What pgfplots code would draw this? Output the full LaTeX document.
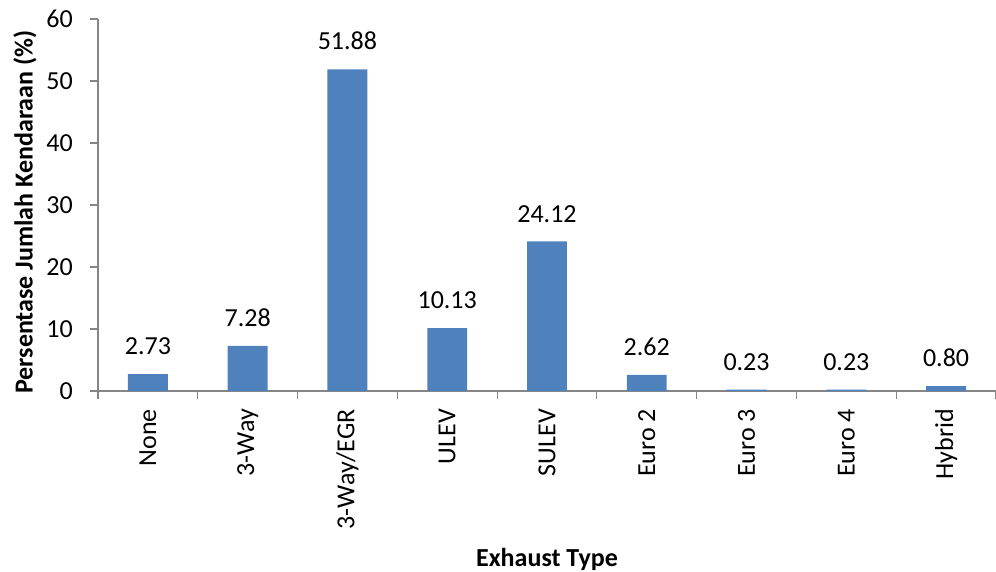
\documentclass[border=0pt]{standalone}
\usepackage{fontspec}
\setmainfont{Carlito}
\usepackage{pgfplots}
\pgfplotsset{compat=1.18}
\definecolor{barblue}{HTML}{4F81BD}
\definecolor{axisgray}{HTML}{868686}
\newcommand{\fsz}{\fontsize{26bp}{31bp}\selectfont}
\begin{document}
\begin{tikzpicture}
\useasboundingbox (-98bp,-181bp) rectangle (898bp,391bp);
\begin{axis}[
  at={(0,0)}, anchor=south west,
  scale only axis, width=898bp, height=372bp,
  xmin=-0.5, xmax=8.5, ymin=0, ymax=60,
  enlargelimits=false,
  axis x line*=bottom, axis y line*=left,
  axis line style={axisgray, line width=1.2bp, -},
  ytick={0,10,...,60},
  xtick={0,...,8},
  xticklabels={None,3-Way,3-Way/EGR,ULEV,SULEV,Euro 2,Euro 3,Euro 4,Hybrid},
  minor xtick={-0.5,0.5,...,8.5},
  tick align=outside,
  major tick length=8bp, minor tick length=8bp,
  major x tick style={draw=none},
  every tick/.style={axisgray, line width=1.2bp},
  /pgf/number format/assume math mode=true,
  every tick label/.append style={font=\fsz},
  yticklabel style={inner sep=0pt, xshift=-17bp},
  % the labels are turned, so xshift moves them down the page
  xticklabel style={rotate=90, anchor=east, inner sep=0pt, xshift=-10bp},
  xlabel={\textbf{Exhaust Type}},
  ylabel={\textbf{Persentase Jumlah Kendaraan (\%)}},
  every axis x label/.style={at={(axis description cs:0.5,-0.473)}, anchor=base, font=\fsz},
  every axis y label/.style={at={(axis description cs:-0.0813,0.481)}, rotate=90, anchor=center, font=\fsz},
  nodes near coords={\pgfmathprintnumber[fixed,fixed zerofill,precision=2]{\pgfplotspointmeta}},
  every node near coord/.append style={font=\fsz, inner sep=0pt, yshift=19bp, text=black},
  clip=false,
]
\addplot[ybar, bar width=0.4, fill=barblue, draw=none] coordinates {
  (0,2.73) (1,7.28) (2,51.88) (3,10.13) (4,24.12)
  (5,2.62) (6,0.23) (7,0.23) (8,0.80)
};
\end{axis}
\end{tikzpicture}
\end{document}
